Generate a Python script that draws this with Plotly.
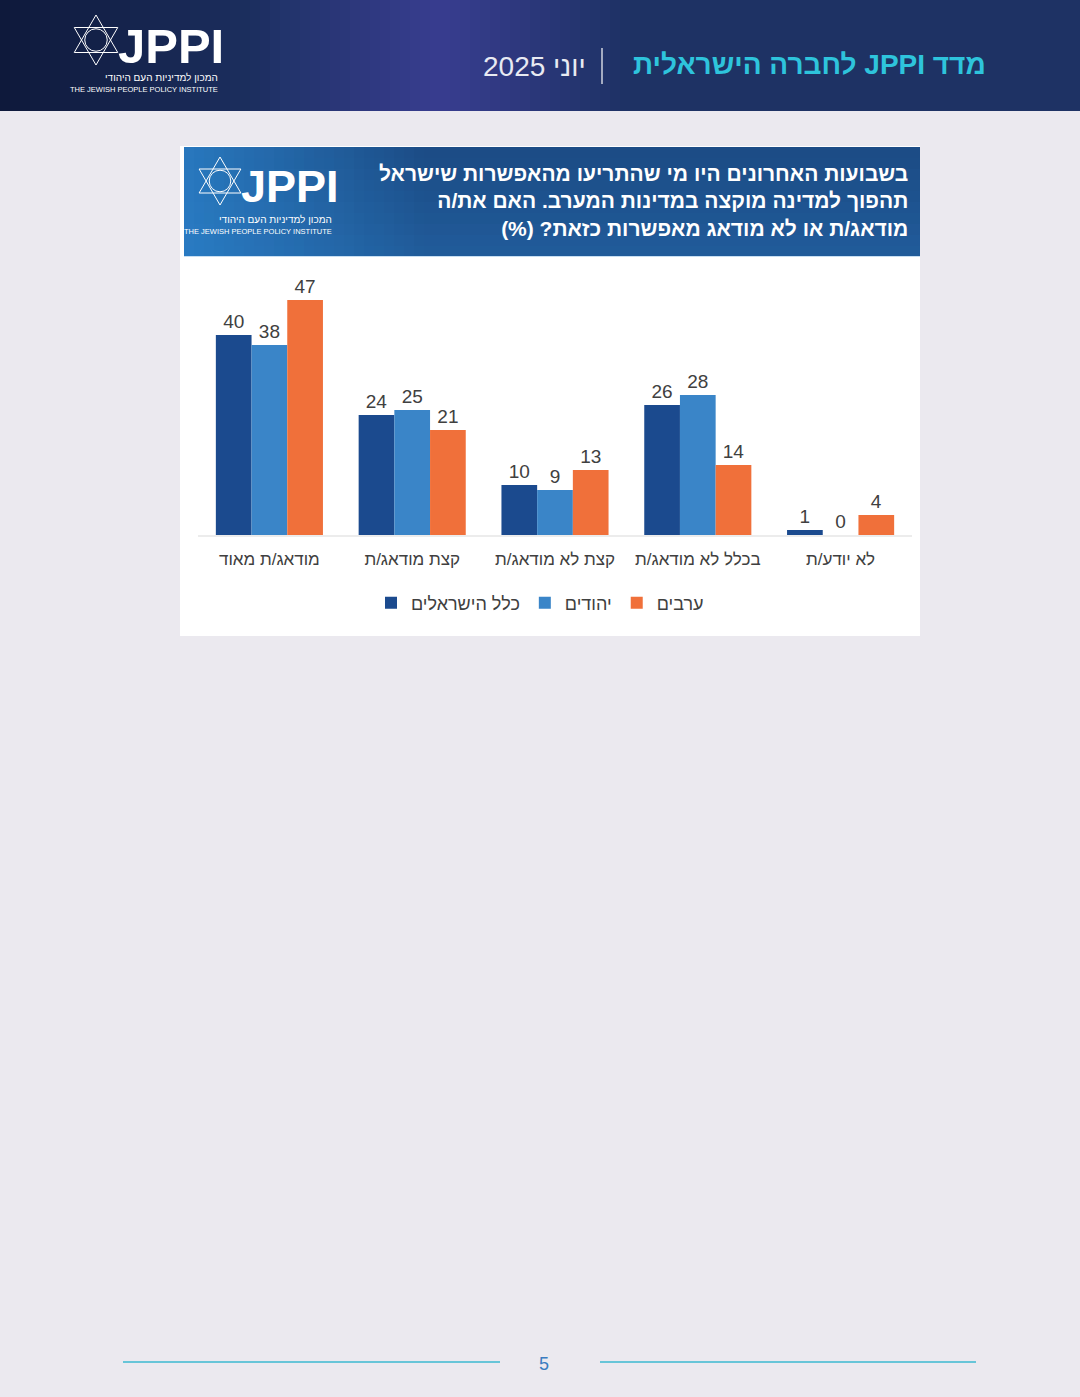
import plotly.graph_objects as go

W, H = 1080, 1397

categories = ["מודאג/ת מאוד", "קצת מודאג/ת", "קצת לא מודאג/ת", "בכלל לא מודאג/ת", "לא יודע/ת"]
all_israelis = [40, 24, 10, 26, 1]
jews = [38, 25, 9, 28, 0]
arabs = [47, 21, 13, 14, 4]
series_names = ["כלל הישראלים", "יהודים", "ערבים"]
colors = ["#1b4a8e", "#3a85c8", "#f0703a"]

FONT = "Liberation Sans, DejaVu Sans, sans-serif"
RLE, PDF = "\u202b", "\u202c"

def px(x):
    return x / W

def py(y):
    return 1 - y / H

fig = go.Figure()
for name, vals, c in zip(series_names, [all_israelis, jews, arabs], colors):
    fig.add_trace(go.Bar(
        x=categories, y=vals, name=name, marker_color=c, marker_line_width=0,
        text=vals, textposition="outside", cliponaxis=False,
        textfont=dict(size=19, color="#404040", family=FONT),
    ))

def rect(x0, x1, y0, y1, color, op=1.0):
    return dict(type="rect", xref="paper", yref="paper", x0=px(x0), x1=px(x1), y0=py(y1), y1=py(y0),
                fillcolor=color, opacity=op, line_width=0, layer="below")

shapes = [rect(0, 1080, 0, 111, "#1e3264")]
# header glow: dark on the left, purple glow around x~430
for i in range(70):
    x0 = i * 10
    d = abs(x0 + 5 - 440)
    if x0 < 300:
        shapes.append(rect(x0, x0 + 10, 0, 111, "#0c1534", max(0.0, 0.85 - x0 / 330)))
    glow = max(0.0, 0.6 * (1 - d / 190))
    if glow > 0:
        shapes.append(rect(x0, x0 + 10, 0, 111, "#4a45ad", glow))

shapes += [
    dict(type="line", xref="paper", yref="paper", x0=px(602), x1=px(602), y0=py(84), y1=py(48),
         line=dict(color="#d0d4e0", width=1.5)),
    rect(180, 920, 146, 636, "white"),
    rect(184, 920, 147, 256, "#1c4c86"),
]
# title box gradient: lighter toward bottom-left
for i in range(24):
    x0 = 184 + i * 10
    shapes.append(rect(x0, x0 + 10, 147, 256, "#2d86cf", max(0.0, 0.75 - i / 32)))
for j in range(10):
    y0 = 147 + j * 11
    shapes.append(rect(184, 920, y0, y0 + 11, "#2d86cf", 0.03 * j))

shapes += [
    dict(type="line", xref="paper", yref="paper", x0=px(198), x1=px(912), y0=py(536), y1=py(536),
         line=dict(color="#d9d9d9", width=1)),
    dict(type="line", xref="paper", yref="paper", x0=px(123), x1=px(500), y0=py(1362), y1=py(1362),
         line=dict(color="#3bb8d0", width=1.5)),
    dict(type="line", xref="paper", yref="paper", x0=px(600), x1=px(976), y0=py(1362), y1=py(1362),
         line=dict(color="#3bb8d0", width=1.5)),
]

def star(cx, cy, r):
    out = []
    for s in (1, -1):
        p = (f"M {px(cx)} {py(cy - s*r)} L {px(cx + r*0.87)} {py(cy + s*r*0.5)} "
             f"L {px(cx - r*0.87)} {py(cy + s*r*0.5)} Z")
        out.append(dict(type="path", xref="paper", yref="paper", path=p, line=dict(color="white", width=1)))
    out.append(dict(type="circle", xref="paper", yref="paper", x0=px(cx - r*0.45), x1=px(cx + r*0.45),
                    y0=py(cy + r*0.45), y1=py(cy - r*0.45), line=dict(color="white", width=1)))
    return out

shapes += star(96, 40, 25) + star(220, 181, 24)

ann = [
    dict(x=px(988), y=py(64), text=RLE + "<b>מדד JPPI לחברה הישראלית</b>" + PDF, xanchor="right",
         font=dict(size=28, color="#2ec4dc", family=FONT)),
    dict(x=px(588), y=py(66), text="יוני 2025", xanchor="right",
         font=dict(size=28, color="#e8eaf2", family=FONT)),
    dict(x=px(116), y=py(46), text="<b>JPPI</b>", xanchor="left",
         font=dict(size=49, color="white", family=FONT)),
    dict(x=px(220), y=py(78), text="המכון למדיניות העם היהודי", xanchor="right",
         font=dict(size=10, color="white", family=FONT)),
    dict(x=px(220), y=py(89), text="THE JEWISH PEOPLE POLICY INSTITUTE", xanchor="right",
         font=dict(size=7.5, color="white", family=FONT)),
    dict(x=px(239), y=py(187), text="<b>JPPI</b>", xanchor="left",
         font=dict(size=45, color="white", family=FONT)),
    dict(x=px(334), y=py(220), text="המכון למדיניות העם היהודי", xanchor="right",
         font=dict(size=10, color="white", family=FONT)),
    dict(x=px(334), y=py(232), text="THE JEWISH PEOPLE POLICY INSTITUTE", xanchor="right",
         font=dict(size=7.5, color="white", family=FONT)),
    dict(x=px(910), y=py(201), align="right", xanchor="right",
         text="<br>".join(RLE + "<b>" + t + "</b>" + PDF for t in [
             "בשבועות האחרונים היו מי שהתריעו מהאפשרות שישראל",
             "תהפוך למדינה מוקצה במדינות המערב. האם את/ה",
             "מודאג/ת או לא מודאג מאפשרות כזאת? (%)"]),
         font=dict(size=21, color="white", family=FONT)),
    dict(x=px(544), y=py(1364), text="5", font=dict(size=18, color="#3a7cc0", family=FONT)),
]
for a in ann:
    a.update(xref="paper", yref="paper", yanchor="middle", showarrow=False)

fig.update_layout(
    width=W, height=H, margin=dict(l=0, r=0, t=0, b=0),
    paper_bgcolor="#ebe9ef", plot_bgcolor="rgba(0,0,0,0)",
    barmode="group", bargap=0.25, bargroupgap=0,
    xaxis=dict(domain=[px(198), px(912)], showgrid=False, showline=False, ticks="",
               ticklabelstandoff=12,
               tickfont=dict(size=17, color="#404040", family=FONT)),
    yaxis=dict(domain=[py(535), py(285)], range=[0, 50], visible=False),
    legend=dict(orientation="h", x=0.5, xanchor="center", y=py(603), yanchor="middle",
                font=dict(size=18, color="#404040", family=FONT),
                bgcolor="rgba(0,0,0,0)"),
    shapes=shapes, annotations=ann, showlegend=True,
)

fig.write_html("out.html", config={"displayModeBar": False})
# drop the default page margin so the figure fills the window
with open("out.html", encoding="utf-8") as f:
    html = f.read()
html = html.replace("<body>", '<body style="margin:0">', 1)
with open("out.html", "w", encoding="utf-8") as f:
    f.write(html)
